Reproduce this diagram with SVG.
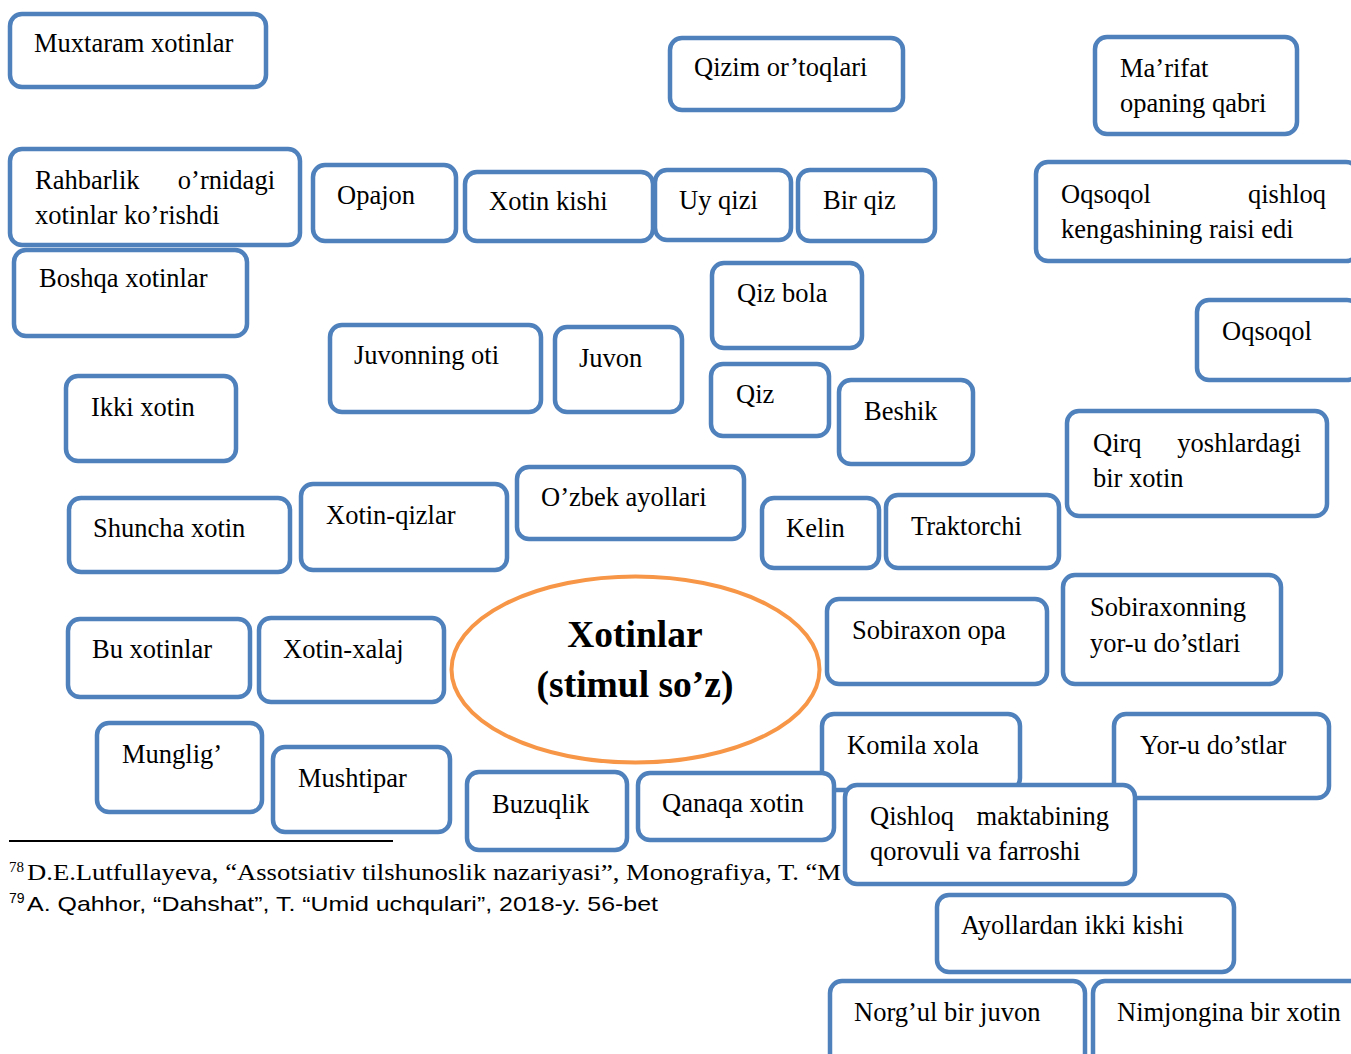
<svg xmlns="http://www.w3.org/2000/svg" width="1351" height="1054" viewBox="0 0 1351 1054">
  <style>
    .box rect { fill: #ffffff; stroke: #4f81bd; stroke-width: 4.5; }
    .box text { font-family: "Liberation Serif", "Times New Roman", serif; font-size: 26.5px; fill: #000000; }
    .end { text-anchor: end; }
    .stim { font-family: "Liberation Serif", "Times New Roman", serif; font-size: 37.5px; font-weight: bold; text-anchor: middle; fill: #000000; }
    .fn { font-family: "Liberation Serif", "Times New Roman", serif; font-size: 24px; fill: #000000; }
    .fn2 { font-family: "Liberation Sans", Arial, sans-serif; font-size: 21px; fill: #000000; }
    .sup { font-family: "Liberation Serif", "Times New Roman", serif; font-size: 15px; fill: #000000; }
    .sup2 { font-family: "Liberation Sans", Arial, sans-serif; font-size: 14px; fill: #000000; }
  </style>

  <!-- footnotes -->
  <g id="footnotes">
    <line x1="9" y1="841" x2="393" y2="841" stroke="#000000" stroke-width="2"/>
    <text class="sup" x="9" y="872">78</text>
    <text class="fn" x="27" y="880" textLength="814" lengthAdjust="spacingAndGlyphs">D.E.Lutfullayeva, “Assotsiativ tilshunoslik nazariyasi”, Monografiya, T. “M</text>
    <text class="sup2" x="9" y="903">79</text>
    <text class="fn2" x="27" y="911" textLength="631" lengthAdjust="spacingAndGlyphs">A. Qahhor, “Dahshat”, T. “Umid uchqulari”, 2018-y. 56-bet</text>
  </g>

  <g id="connectors"></g>

  <!-- stimulus -->
  <g id="stimulus">
    <ellipse cx="635.5" cy="669.5" rx="184" ry="93" fill="#ffffff" stroke="#f79646" stroke-width="4"/>
    <text class="stim" x="635" y="647">Xotinlar</text>
    <text class="stim" x="635" y="697">(stimul so’z)</text>
  </g>

  <g id="n-muxtaram" class="box"><rect x="10" y="14" width="256" height="73" rx="12"/><text x="34" y="52">Muxtaram xotinlar</text></g>
  <g id="n-qizim" class="box"><rect x="670" y="38" width="233" height="72" rx="12"/><text x="694" y="76">Qizim or’toqlari</text></g>
  <g id="n-marifat" class="box"><rect x="1095" y="37" width="202" height="97" rx="12"/><text x="1120" y="77">Ma’rifat</text><text x="1120" y="112">opaning qabri</text></g>
  <g id="n-rahbarlik" class="box"><rect x="10" y="149" width="290" height="96" rx="12"/><text x="35" y="189">Rahbarlik</text><text class="end" x="275" y="189">o’rnidagi</text><text x="35" y="224">xotinlar ko’rishdi</text></g>
  <g id="n-opajon" class="box"><rect x="313" y="165" width="143" height="76" rx="12"/><text x="337" y="204">Opajon</text></g>
  <g id="n-xotinkishi" class="box"><rect x="465" y="172" width="188" height="69" rx="12"/><text x="489" y="210">Xotin kishi</text></g>
  <g id="n-uyqizi" class="box"><rect x="655" y="170" width="136" height="70" rx="12"/><text x="679" y="209">Uy qizi</text></g>
  <g id="n-birqiz" class="box"><rect x="798" y="170" width="137" height="71" rx="12"/><text x="823" y="209">Bir qiz</text></g>
  <g id="n-oqsoqol-raisi" class="box"><rect x="1036" y="162" width="322" height="99" rx="12"/><text x="1061" y="203">Oqsoqol</text><text class="end" x="1326" y="203">qishloq</text><text x="1061" y="238">kengashining raisi edi</text></g>
  <g id="n-boshqa" class="box"><rect x="14" y="250" width="233" height="86" rx="12"/><text x="39" y="287">Boshqa xotinlar</text></g>
  <g id="n-qizbola" class="box"><rect x="712" y="263" width="150" height="85" rx="12"/><text x="737" y="302">Qiz bola</text></g>
  <g id="n-oqsoqol" class="box"><rect x="1197" y="300" width="162" height="80" rx="12"/><text x="1222" y="340">Oqsoqol</text></g>
  <g id="n-juvonningoti" class="box"><rect x="330" y="325" width="211" height="87" rx="12"/><text x="354" y="364">Juvonning oti</text></g>
  <g id="n-juvon" class="box"><rect x="555" y="327" width="127" height="85" rx="12"/><text x="579" y="367">Juvon</text></g>
  <g id="n-qiz" class="box"><rect x="711" y="364" width="118" height="72" rx="12"/><text x="736" y="403">Qiz</text></g>
  <g id="n-beshik" class="box"><rect x="839" y="380" width="134" height="84" rx="12"/><text x="864" y="420">Beshik</text></g>
  <g id="n-ikkixotin" class="box"><rect x="66" y="376" width="170" height="85" rx="12"/><text x="91" y="416">Ikki xotin</text></g>
  <g id="n-qirq" class="box"><rect x="1067" y="411" width="260" height="105" rx="12"/><text x="1093" y="452">Qirq</text><text class="end" x="1301" y="452">yoshlardagi</text><text x="1093" y="487">bir xotin</text></g>
  <g id="n-shuncha" class="box"><rect x="69" y="498" width="221" height="74" rx="12"/><text x="93" y="537">Shuncha xotin</text></g>
  <g id="n-xotinqizlar" class="box"><rect x="301" y="484" width="206" height="86" rx="12"/><text x="326" y="524">Xotin-qizlar</text></g>
  <g id="n-ozbek" class="box"><rect x="517" y="467" width="227" height="72" rx="12"/><text x="541" y="506">O’zbek ayollari</text></g>
  <g id="n-kelin" class="box"><rect x="762" y="498" width="117" height="70" rx="12"/><text x="786" y="537">Kelin</text></g>
  <g id="n-traktorchi" class="box"><rect x="886" y="495" width="173" height="73" rx="12"/><text x="911" y="535">Traktorchi</text></g>
  <g id="n-buxotinlar" class="box"><rect x="68" y="619" width="182" height="78" rx="12"/><text x="92" y="658">Bu xotinlar</text></g>
  <g id="n-xotinxalaj" class="box"><rect x="259" y="618" width="185" height="84" rx="12"/><text x="283" y="658">Xotin-xalaj</text></g>
  <g id="n-sobiraxon" class="box"><rect x="827" y="599" width="220" height="85" rx="12"/><text x="852" y="639">Sobiraxon opa</text></g>
  <g id="n-sobiraxonning" class="box"><rect x="1063" y="575" width="218" height="109" rx="12"/><text x="1090" y="616">Sobiraxonning</text><text x="1090" y="652">yor-u do’stlari</text></g>
  <g id="n-munglig" class="box"><rect x="97" y="723" width="165" height="89" rx="12"/><text x="122" y="763">Munglig’</text></g>
  <g id="n-mushtipar" class="box"><rect x="273" y="747" width="177" height="85" rx="12"/><text x="298" y="787">Mushtipar</text></g>
  <g id="n-buzuqlik" class="box"><rect x="467" y="772" width="160" height="78" rx="12"/><text x="492" y="813">Buzuqlik</text></g>
  <g id="n-komila" class="box"><rect x="822" y="714" width="198" height="76" rx="12"/><text x="847" y="754">Komila xola</text></g>
  <g id="n-yorudostlar" class="box"><rect x="1114" y="714" width="215" height="84" rx="12"/><text x="1140" y="754">Yor-u do’stlar</text></g>
  <g id="n-qanaqa" class="box"><rect x="638" y="773" width="196" height="67" rx="12"/><text x="662" y="812">Qanaqa xotin</text></g>
  <g id="n-qishloq" class="box"><rect x="845" y="785" width="290" height="99" rx="12"/><text x="870" y="825">Qishloq</text><text class="end" x="1109" y="825">maktabining</text><text x="870" y="860">qorovuli va farroshi</text></g>
  <g id="n-ayollardan" class="box"><rect x="937" y="895" width="297" height="77" rx="12"/><text x="961" y="934">Ayollardan ikki kishi</text></g>
  <g id="n-norgul" class="box"><rect x="830" y="981" width="255" height="85" rx="12"/><text x="854" y="1021">Norg’ul bir juvon</text></g>
  <g id="n-nimjongina" class="box"><rect x="1093" y="981" width="270" height="85" rx="12"/><text x="1117" y="1021">Nimjongina bir xotin</text></g>
</svg>
